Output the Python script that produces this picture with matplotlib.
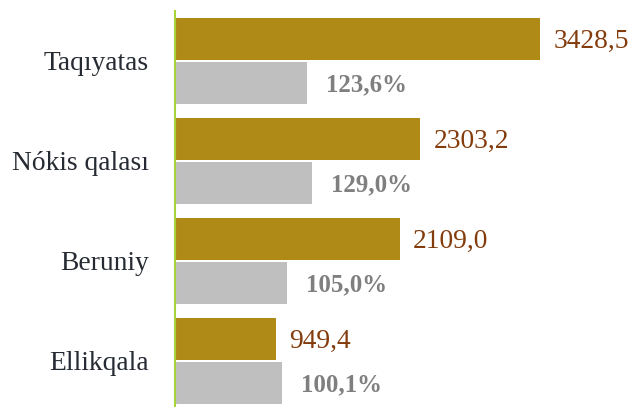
import matplotlib
matplotlib.use("Agg")
import matplotlib.pyplot as plt
import numpy as np

categories = ["Taqıyatas", "Nókis qalası", "Beruniy", "Ellikqala"]
values = [3428.5, 2303.2, 2109.0, 949.4]
percents = [123.6, 129.0, 105.0, 100.1]
value_labels = ["3428,5", "2303,2", "2109,0", "949,4"]
percent_labels = ["123,6%", "129,0%", "105,0%", "100,1%"]

W, H = 631, 407
fig = plt.figure(figsize=(W / 100, H / 100), dpi=100)
ax = fig.add_axes([175 / W, 0, (W - 175) / W, (407 - 11) / H])

y = np.arange(len(categories))
gold = "#AF8A17"
grey = "#BFBFBF"
ax.barh(y - 0.22, values, height=0.42, color=gold, linewidth=0)
ax.barh(y + 0.22, [p * 10 for p in percents], height=0.42, color=grey, linewidth=0)

ax.set_xlim(0, (W - 175) / 0.1065)
ax.set_ylim(3.46, -0.50)

serif = ["Liberation Serif", "DejaVu Serif"]
for i, (v, lab) in enumerate(zip(values, value_labels)):
    ax.annotate(lab, (v, i - 0.22), xytext=(13, -2), textcoords="offset pixels",
                ha="left", va="center", fontsize=19.8, color="#843C0C", family=serif)
for i, (p, lab) in enumerate(zip(percents, percent_labels)):
    ax.annotate(lab, (p * 10, i + 0.22), xytext=(19, -2), textcoords="offset pixels",
                ha="left", va="center", fontsize=17.9, color="#7F7F7F",
                fontweight="bold", family=serif)

ax.set_yticks(y)
ax.set_yticklabels(categories, family=serif, fontsize=19.8, color="#262B33")
ax.tick_params(axis="y", length=0, pad=19)
ax.set_xticks([])
for s in ["top", "right", "bottom"]:
    ax.spines[s].set_visible(False)
ax.spines["left"].set_color("#A6D33A")
ax.spines["left"].set_linewidth(1.5)

fig.savefig("out.png", dpi=100)
